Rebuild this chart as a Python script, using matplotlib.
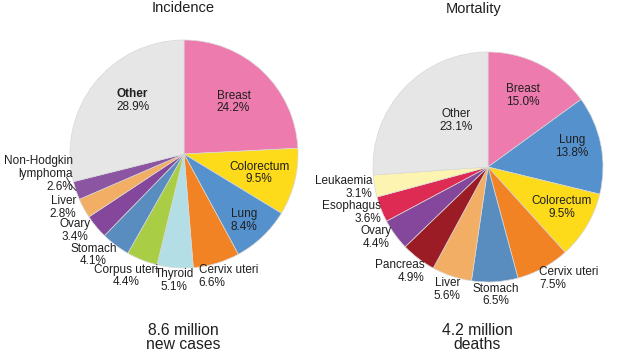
import matplotlib
matplotlib.use("Agg")
from matplotlib import pyplot as plt
import numpy as np

plt.rcParams["font.family"] = ["Liberation Sans", "DejaVu Sans"]

# incidence, share of new cases (%)
inc_sites = ["Breast", "Colorectum", "Lung", "Cervix uteri", "Thyroid", "Corpus uteri",
             "Stomach", "Ovary", "Liver", "Non-Hodgkin\nlymphoma", "Other"]
inc_shares = [24.2, 9.5, 8.4, 6.6, 5.1, 4.4, 4.1, 3.4, 2.8, 2.6, 28.9]

# mortality, share of deaths (%) as labelled
mort_sites = ["Breast", "Lung", "Colorectum", "Cervix uteri", "Stomach", "Liver",
              "Pancreas", "Ovary", "Esophagus", "Leukaemia", "Other"]
mort_shares = [15.0, 13.8, 9.5, 7.5, 6.5, 5.6, 4.9, 4.4, 3.6, 3.1, 23.1]
# slice sizes as drawn (the Other wedge fills the rest of the circle)
mort_slices = [15.0, 13.8, 9.5, 7.5, 6.5, 5.6, 4.9, 4.4, 3.6, 3.1, 26.1]

inc_totals = "8.6 million\nnew cases"
mort_totals = "4.2 million\ndeaths"

site_colors = {
    "Breast": "#ee7bae",
    "Colorectum": "#fdda1a",
    "Lung": "#5591cd",
    "Cervix uteri": "#f28325",
    "Thyroid": "#b4dee6",
    "Corpus uteri": "#a9ce46",
    "Stomach": "#5a8dbf",
    "Ovary": "#84479b",
    "Liver": "#f2ae64",
    "Non-Hodgkin\nlymphoma": "#8c55a2",
    "Pancreas": "#9c1c25",
    "Esophagus": "#de2b53",
    "Leukaemia": "#fcf4b0",
    "Other": "#e6e6e6",
}

# label placement: (radius in pie units, angle nudge in degrees, line alignment)
inc_layout = {
    "Breast": (0.63, 0, "center"),
    "Colorectum": (0.68, 0, "center"),
    "Lung": (0.79, -1.5, "center"),
    "Cervix uteri": (1.14, 3.4, "left"),
    "Thyroid": (1.11, 0, "center"),
    "Corpus uteri": (1.185, -3.8, "center"),
    "Stomach": (1.19, -5, "center"),
    "Ovary": (1.17, -4.6, "center"),
    "Liver": (1.16, -4.4, "center"),
    "Non-Hodgkin\nlymphoma": (1.29, -11, "right"),
    "Other": (0.65, -8, "center"),
}
mort_layout = {
    "Breast": (0.69, 0.8, "center"),
    "Lung": (0.75, 2.8, "center"),
    "Colorectum": (0.73, 1.8, "center"),
    "Cervix uteri": (1.20, 7.4, "left"),
    "Stomach": (1.115, 0, "center"),
    "Liver": (1.125, 0, "center"),
    "Pancreas": (1.19, -2.7, "right"),
    "Ovary": (1.15, -3.6, "center"),
    "Esophagus": (1.25, -3.2, "right"),
    "Leukaemia": (1.265, -1.4, "right"),
    "Other": (0.49, -12, "center"),
}

W, H = 638, 362
TEXT = "#1f1f1f"
fig = plt.figure(figsize=(W / 100, H / 100), dpi=100)


def pie_axes(cx, cy, r):
    half = 1.5 * r
    return fig.add_axes([(cx - half) / W, (H - cy - half) / H, 2 * half / W, 2 * half / H])


def draw_pie(ax, sites, slices, shares, layout, bold_other=False):
    wedges, _ = ax.pie(slices, colors=[site_colors[s] for s in sites],
                       startangle=90, counterclock=False,
                       wedgeprops=dict(edgecolor="#d8d8d8", linewidth=0.5))
    style = dict(ha="center", va="center", fontsize=8.5, linespacing=1.1, color=TEXT)
    for w, site, share in zip(wedges, sites, shares):
        rad, nudge, align = layout[site]
        mid = np.deg2rad((w.theta1 + w.theta2) / 2 + nudge)
        x, y = rad * np.cos(mid), rad * np.sin(mid)
        if bold_other and site == "Other":
            # bold name, normal share: two texts with matching line grids
            ax.text(x, y, f"{site}\n", fontweight="bold", multialignment=align, **style)
            ax.text(x, y, f"\n{share:.1f}%", multialignment=align, **style)
        else:
            ax.text(x, y, f"{site}\n{share:.1f}%", multialignment=align, **style)
    ax.set_xlim(-1.5, 1.5)
    ax.set_ylim(-1.5, 1.5)
    ax.axis("off")
    return wedges


ax1 = pie_axes(184, 154, 114)
wedges1 = draw_pie(ax1, inc_sites, inc_shares, inc_shares, inc_layout, bold_other=True)

# small leader for the Non-Hodgkin lymphoma label
nhl = wedges1[inc_sites.index("Non-Hodgkin\nlymphoma")]
a0 = np.deg2rad((nhl.theta1 + nhl.theta2) / 2)
a1 = a0 - np.deg2rad(7.4)
ax1.plot([1.0 * np.cos(a0), 1.03 * np.cos(a0 - 0.06), 1.05 * np.cos(a1)],
         [1.0 * np.sin(a0), 1.03 * np.sin(a0 - 0.06), 1.05 * np.sin(a1)],
         color=TEXT, linewidth=0.6, clip_on=False)

ax2 = pie_axes(488, 167, 115)
draw_pie(ax2, mort_sites, mort_slices, mort_shares, mort_layout)

fig.text(183 / W, 1 - 12.5 / H, "Incidence", ha="center", va="baseline", fontsize=10.5, color=TEXT)
fig.text(474 / W, 1 - 12.5 / H, "Mortality", ha="center", va="baseline", fontsize=10.5, color=TEXT)
fig.text(183 / W, 1 - 323 / H, inc_totals, ha="center", va="top", fontsize=11.3,
         linespacing=0.95, color=TEXT)
fig.text(477 / W, 1 - 323 / H, mort_totals, ha="center", va="top", fontsize=11.3,
         linespacing=0.95, color=TEXT)

fig.savefig("out.png", dpi=100, facecolor="white")
